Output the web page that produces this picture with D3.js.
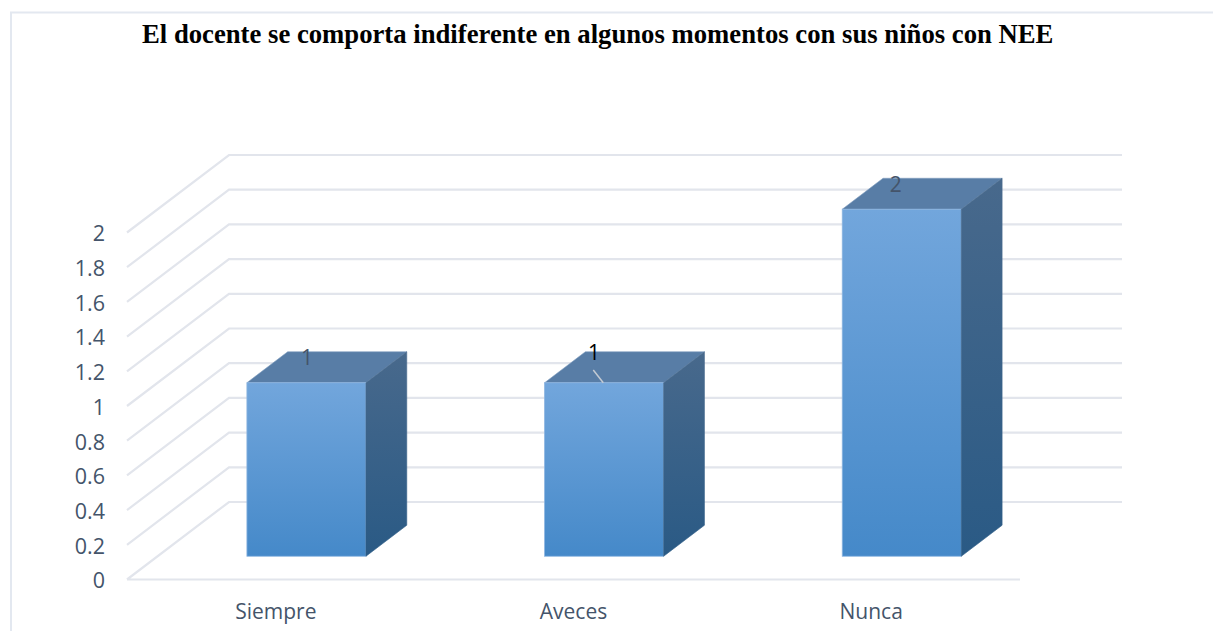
<!DOCTYPE html>
<html>
<head>
<meta charset="utf-8">
<script src="https://cdn.jsdelivr.net/npm/d3@7"></script>
<style>
    html, body { margin: 0; padding: 0; background: #fff; }
    svg { display: block; }
</style>
</head>
<body>
<svg width="1213" height="631"></svg>
<script>
var categories = ['Siempre', 'Aveces', 'Nunca'];
var values = [1, 1, 2];
var yTicks = [0, 0.2, 0.4, 0.6, 0.8, 1, 1.2, 1.4, 1.6, 1.8, 2];
var chartTitle = 'El docente se comporta indiferente en algunos momentos con sus niños con NEE';

var svg = d3.select('svg');

// plot box, floor front edge to back wall
var floorLeft = 127, floorRight = 1020, floorY = 579.5, topY = 232.5;
var depthX = 102, depthY = -77.5;
// bars sit between these fractions of the depth
var barFront = 0.3, barBack = 0.7;

var x = d3.scaleBand().domain(categories).range([floorLeft, floorRight]).paddingInner(0.6).paddingOuter(0.3);
var y = d3.scaleLinear().domain([0, 2]).range([floorY, topY]);

var defs = svg.append('defs');
function gradient(id, top, bottom) {
    var g = defs.append('linearGradient').attr('id', id)
        .attr('x1', 0).attr('y1', 0).attr('x2', 0).attr('y2', 1);
    g.append('stop').attr('offset', '0%').attr('stop-color', top);
    g.append('stop').attr('offset', '100%').attr('stop-color', bottom);
}
gradient('front', '#72a6dc', '#4589c9');
gradient('side', '#48698c', '#2a5a85');

// outer frame
svg.append('path')
    .attr('d', 'M11,631V12.5H1213')
    .attr('fill', 'none')
    .attr('stroke', '#e3e8f0')
    .attr('stroke-width', 2);

// gridlines, side wall and back wall
var grid = svg.append('g');
grid.selectAll('path').data(yTicks).enter().append('path')
    .attr('d', function(d) {
        var y0 = y(d);
        var path = 'M' + floorLeft + ',' + y0 + 'L' + (floorLeft + depthX) + ',' + (y0 + depthY) + 'H' + (floorRight + depthX);
        if (d === 0) path += 'M' + floorLeft + ',' + y0 + 'H' + floorRight;
        return path;
    })
    .attr('fill', 'none')
    .attr('stroke', '#e2e5ec')
    .attr('stroke-width', 2.2);

// y axis labels
var yAxis = d3.axisLeft(y).tickValues(yTicks).tickSize(0).tickPadding(22).tickFormat(function(d) { return String(d); });
var yG = svg.append('g').attr('transform', 'translate(' + floorLeft + ',1.5)').call(yAxis);
yG.select('.domain').remove();
yG.selectAll('text')
    .attr('font-family', '"Open Sans", sans-serif')
    .attr('font-size', 21.5)
    .attr('fill', '#44546a');

// x axis labels
var xAxis = d3.axisBottom(x).tickSize(0).tickPadding(25);
var xG = svg.append('g').attr('transform', 'translate(0,' + floorY + ')').call(xAxis);
xG.select('.domain').remove();
xG.selectAll('text')
    .attr('font-family', '"Open Sans", sans-serif')
    .attr('font-size', 21)
    .attr('fill', '#44546a');

// bars
var bars = svg.append('g').selectAll('g').data(values).enter().append('g');

bars.each(function(d, i) {
    var g = d3.select(this);
    var fx = x(categories[i]) + barFront * depthX, fw = x.bandwidth();
    var ox = (barBack - barFront) * depthX, oy = (barBack - barFront) * depthY;
    var bottom = y(0) + barFront * depthY;
    var top = y(d) + barFront * depthY;

    g.append('path')
        .attr('d', 'M' + fx + ',' + top + 'h' + fw + 'l' + ox + ',' + oy + 'h' + (-fw) + 'z')
        .attr('fill', '#587da6')
        .attr('stroke', '#7f9dc0')
        .attr('stroke-width', 0.6);
    g.append('rect')
        .attr('x', fx).attr('y', top)
        .attr('width', fw).attr('height', bottom - top)
        .attr('fill', 'url(#front)')
        .attr('stroke', '#8db5e0')
        .attr('stroke-width', 0.8);
    // side goes last so it covers the light right edge of the front
    g.append('path')
        .attr('d', 'M' + (fx + fw) + ',' + top + 'l' + ox + ',' + oy + 'V' + (bottom + oy) + 'l' + (-ox) + ',' + (-oy) + 'z')
        .attr('fill', 'url(#side)')
        .attr('stroke', 'url(#side)')
        .attr('stroke-width', 0.6);
});

// data labels, offsets from the band start and the value height
var labelDx = [90.6, 80, 84];
var labelDy = [-41, -46, -40.5];
var labelFill = ['#44546a', '#000000', '#44546a'];
svg.append('g').selectAll('text').data(values).enter().append('text')
    .attr('x', function(d, i) { return x(categories[i]) + labelDx[i]; })
    .attr('y', function(d, i) { return y(d) + labelDy[i]; })
    .attr('text-anchor', 'middle')
    .attr('font-family', '"Open Sans", sans-serif')
    .attr('font-size', 21)
    .attr('fill', function(d, i) { return labelFill[i]; })
    .text(function(d) { return d; });

// leader line on the Aveces label
svg.append('line')
    .attr('x1', x(categories[1]) + 79.3).attr('y1', y(values[1]) - 36)
    .attr('x2', x(categories[1]) + 89.3).attr('y2', y(values[1]) - 23.3)
    .attr('stroke', '#c3cad3')
    .attr('stroke-width', 1.5);

// title
svg.append('text')
    .attr('x', 142)
    .attr('y', 42.7)
    .attr('font-family', '"Liberation Serif", serif')
    .attr('font-weight', 'bold')
    .attr('font-size', 26.7)
    .attr('fill', '#000')
    .text(chartTitle);
</script>
</body>
</html>
